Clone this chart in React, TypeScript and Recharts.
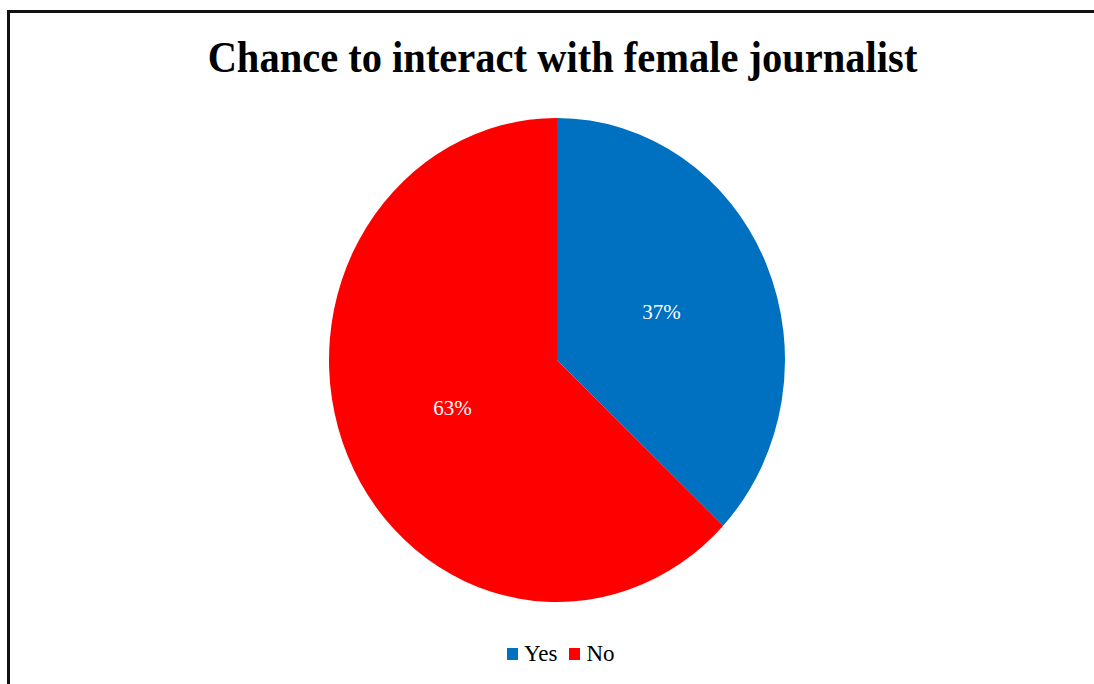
import React from 'react';
import { PieChart, Pie, Cell, Legend } from 'recharts';

const categories = ['Yes', 'No'];
const shares = [37, 63];
const colors = ['#0070C0', '#FF0000'];

const data = categories.map((name, i) => ({ name, value: shares[i] }));

const RAD = Math.PI / 180;
// the reference pie is a little taller than it is wide
const RX = 228;
const RY = 242;

const ellipsePoint = (cx: number, cy: number, a: number, k = 1) => ({
  x: cx + RX * k * Math.cos(-a * RAD),
  y: cy + RY * k * Math.sin(-a * RAD),
});

const EllipseSector = (props: any) => {
  const { cx, cy, startAngle, endAngle, fill } = props;
  const p1 = ellipsePoint(cx, cy, startAngle);
  const p2 = ellipsePoint(cx, cy, endAngle);
  const large = Math.abs(endAngle - startAngle) > 180 ? 1 : 0;
  const sweep = endAngle < startAngle ? 1 : 0;
  const d = `M${cx},${cy} L${p1.x},${p1.y} A${RX},${RY} 0 ${large} ${sweep} ${p2.x},${p2.y} Z`;
  return <path d={d} fill={fill} stroke="none" />;
};

const renderLabel = (props: any) => {
  const { cx, cy, midAngle, value } = props;
  const p = ellipsePoint(cx, cy, midAngle, 0.5);
  return (
    <text
      x={p.x}
      y={p.y}
      fill="#fff"
      textAnchor="middle"
      dominantBaseline="central"
      fontFamily="'Liberation Serif', 'Times New Roman', serif"
      fontSize={21}
    >
      {`${value}%`}
    </text>
  );
};

const legendFont = "'Liberation Serif', 'Times New Roman', serif";

const renderLegend = (props: any) => {
  const { payload } = props;
  const items = [...payload].sort(
    (a: any, b: any) => categories.indexOf(a.value) - categories.indexOf(b.value)
  );
  return (
    <div style={{ display: 'flex', alignItems: 'center', height: 24 }}>
      {items.map((entry: any, i: number) => (
        <div key={entry.value} style={{ display: 'flex', alignItems: 'center', marginRight: i === 0 ? 12 : 0 }}>
          <span style={{ width: 11, height: 12, background: entry.color, marginRight: 6, display: 'inline-block' }} />
          <span style={{ fontFamily: legendFont, fontSize: '23px', lineHeight: '24px', color: '#000' }}>
            {entry.value}
          </span>
        </div>
      ))}
    </div>
  );
};

export default function App() {
  return (
    <div
      style={{
        position: 'absolute',
        left: 0,
        top: 0,
        width: 1094,
        height: 684,
        overflow: 'hidden',
        background: '#fff',
      }}
    >
      <div
        style={{
          position: 'absolute',
          left: 7,
          top: 10,
          width: 1200,
          height: 800,
          border: '3px solid #111',
          boxSizing: 'border-box',
        }}
      />
      <div
        style={{
          position: 'absolute',
          left: 562.5 - 600,
          top: 38.8,
          width: 1200,
          textAlign: 'center',
          fontFamily: "'Liberation Serif', 'Times New Roman', serif",
          fontWeight: 'bold',
          fontSize: 40.5,
          lineHeight: '40.5px',
          color: '#000',
          transform: 'scaleY(1.08)',
          transformOrigin: '50% 33.9px',
        }}
      >
        Chance to interact with female journalist
      </div>
      <div style={{ position: 'absolute', left: 0, top: 0 }}>
        <PieChart width={1094} height={684} margin={{ top: 0, right: 0, bottom: 0, left: 0 }}>
          <Pie
            data={data}
            dataKey="value"
            nameKey="name"
            cx={557}
            cy={360}
            outerRadius={RX}
            startAngle={90}
            endAngle={-270}
            shape={EllipseSector}
            label={renderLabel}
            labelLine={false}
            isAnimationActive={false}
          >
            {data.map((d, i) => (
              <Cell key={d.name} fill={colors[i]} />
            ))}
          </Pie>
          <Legend
            content={renderLegend}
            wrapperStyle={{ left: 507, top: 641.6, width: 'auto', bottom: 'auto' }}
          />
        </PieChart>
      </div>
    </div>
  );
}
